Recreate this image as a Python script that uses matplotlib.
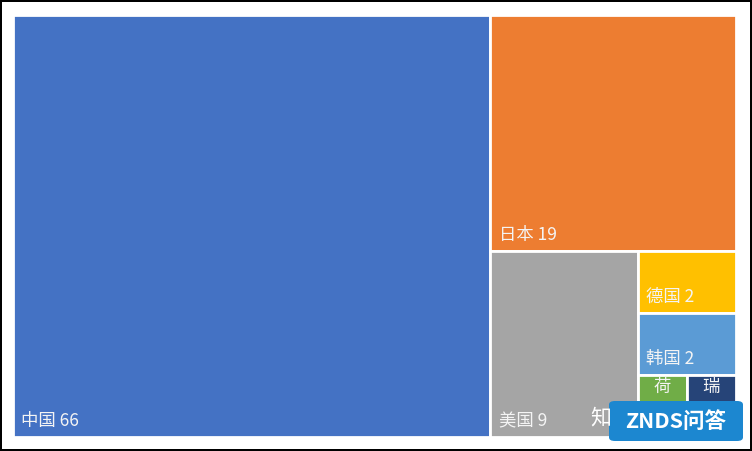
#!/usr/bin/env python3
import matplotlib
matplotlib.use("Agg")
import matplotlib.pyplot as plt
from matplotlib.patches import Rectangle, FancyBboxPatch

plt.rcParams['font.family'] = ['Noto Sans CJK SC', 'DejaVu Sans']

# data
countries = ["中国", "日本", "美国", "德国", "韩国", "荷兰", "瑞士"]
values = [66, 19, 9, 2, 2, 1, 1]
colors = ["#4472C4", "#ED7D31", "#A5A5A5", "#FFC000", "#5B9BD5", "#70AD47", "#264478"]


def slice_layout(vals, x, y, w, h):
    # cut one item off along the longer side, then recurse on the rest
    rects = []
    total = float(sum(vals))
    for i, v in enumerate(vals):
        if i == len(vals) - 1:
            rects.append((x, y, w, h))
            break
        frac = v / total
        if w >= h:
            rects.append((x, y, w * frac, h))
            x += w * frac
            w -= w * frac
        else:
            rects.append((x, y + h - h * frac, w, h * frac))
            h -= h * frac
        total -= v
    return rects


W, H = 723.0, 422.0
fig = plt.figure(figsize=(7.52, 4.51), dpi=100)
fig.patch.set_facecolor("white")
fig.patch.set_edgecolor("black")
fig.patch.set_linewidth(1.5)
ax = fig.add_axes([13 / 752, 14 / 451, W / 752, H / 451])
ax.set_xlim(0, W)
ax.set_ylim(0, H)
ax.axis("off")

rects = slice_layout(values, 0, 0, W, H)
for (x, y, w, h), name, v, c in zip(rects, countries, values, colors):
    r = Rectangle((x, y), w, h, facecolor=c, edgecolor="white", linewidth=2)
    ax.add_patch(r)
    if w > 60:
        ax.annotate(f"{name} {v}", (x, y), xytext=(6, 5), textcoords="offset points",
                    ha="left", va="bottom", color="#F4F4F4", fontsize=12.5)
    else:
        # narrow cells: the label wraps, only its first glyph stays visible
        ax.annotate(name[0], (x + w / 2, y + h), xytext=(0, -2),
                    textcoords="offset points", ha="center", va="top",
                    color="#F4F4F4", fontsize=12.5)

# watermark
fig.text(590 / 752, 1 - 417 / 451, "知", color="white", fontsize=15,
         ha="left", va="center")
logo = FancyBboxPatch((609 / 752, 1 - 441 / 451), 134 / 752, 40 / 451,
                      boxstyle="round,pad=0,rounding_size=0.008",
                      transform=fig.transFigure, facecolor="#1C87D0",
                      edgecolor="none")
fig.patches.append(logo)
fig.text(676 / 752, 1 - 421 / 451, "ZNDS问答", color="white", fontsize=15.5,
         fontweight="bold", fontstyle="italic", ha="center", va="center")

plt.savefig("out.png", dpi=100)
